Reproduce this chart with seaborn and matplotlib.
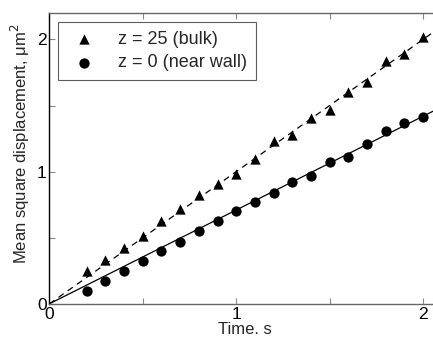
import numpy as np
import pandas as pd
import seaborn as sns
import matplotlib
matplotlib.use("Agg")
import matplotlib.pyplot as plt

## time points (s)
t = [0.2, 0.3, 0.4, 0.5, 0.6, 0.7, 0.8, 0.9, 1.0, 1.1,
     1.2, 1.3, 1.4, 1.5, 1.6, 1.7, 1.8, 1.9, 2.0]

## MSD, bulk (z = 25)
msd_bulk = [0.25, 0.33, 0.425, 0.51, 0.63, 0.72, 0.82, 0.91, 0.98, 1.095,
            1.23, 1.275, 1.405, 1.465, 1.60, 1.675, 1.84, 1.89, 2.02]

## MSD, near wall (z = 0)
msd_wall = [0.10, 0.175, 0.25, 0.325, 0.40, 0.47, 0.55, 0.625, 0.70, 0.77,
            0.84, 0.925, 0.97, 1.075, 1.11, 1.21, 1.31, 1.365, 1.415]

## fitted lines (end points)
fit_t = [0.0, 2.09]
fit_bulk = [0.0, 2.09]
fit_wall = [0.0, 1.483]

sns.set_style("ticks")
plt.rcParams["font.family"] = ["Liberation Sans", "DejaVu Sans"]

fig = plt.figure(figsize=(4.33, 3.41), dpi=100)
## axes run a bit past the right edge of the figure, like the original
ax = fig.add_axes([0.114, 0.109, 0.902, 0.853])

sns.lineplot(x=fit_t, y=fit_bulk, ax=ax, color="black", lw=0.9,
             linestyle=(0, (5, 4)), legend=False)
sns.lineplot(x=fit_t, y=fit_wall, ax=ax, color="black", lw=0.9, legend=False)

sns.scatterplot(x=t, y=msd_bulk, ax=ax, marker="^", color="black", s=55,
                edgecolor="black", linewidth=0, label="z = 25 (bulk)", zorder=3)
sns.scatterplot(x=t, y=msd_wall, ax=ax, marker="o", color="black", s=55,
                edgecolor="black", linewidth=0, label="z = 0 (near wall)", zorder=3)

ax.set_xlim(0, 2.09)
ax.set_ylim(0, 2.2)
ax.set_xticks([0, 0.5, 1, 1.5, 2])
ax.set_xticklabels(["0", "", "1", "", "2"])
ax.set_yticks([0, 0.5, 1, 1.5, 2])
ax.set_yticklabels(["0", "", "1", "", "2"])
ax.tick_params(direction="in", length=4, width=0.8, labelsize=12.5,
               top=True, right=True, colors="#888888", labelcolor="black")
ax.tick_params(axis="x", pad=2.5)
ax.tick_params(axis="y", pad=2)

for side in ["top", "bottom", "right"]:
    ax.spines[side].set_color("#666666")
    ax.spines[side].set_linewidth(1.0)
ax.spines["left"].set_color("black")
ax.spines["left"].set_linewidth(1.0)

ax.set_xlabel("Time. s", fontsize=12, labelpad=0)
ax.set_ylabel("Mean square displacement, μm$^2$", fontsize=12)
ax.yaxis.set_label_coords(-0.045, 0.55)

leg = ax.legend(loc="upper left", fontsize=13, frameon=True, fancybox=False,
                edgecolor="#333333", borderpad=0.5, handletextpad=1.0,
                labelspacing=0.35, borderaxespad=0.5, handlelength=1.8)
leg.get_frame().set_linewidth(0.8)

plt.savefig("out.png", dpi=100)
